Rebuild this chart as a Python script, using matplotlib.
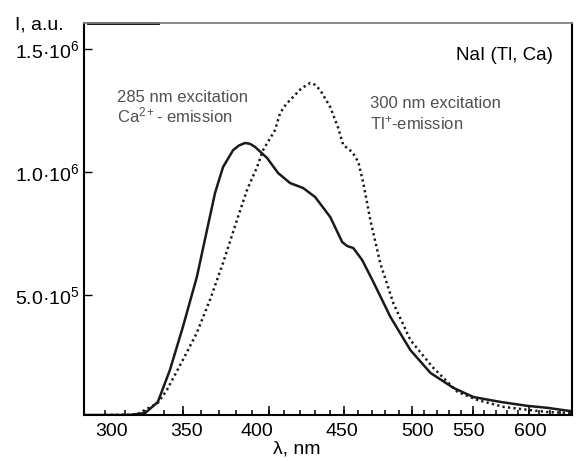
import matplotlib
matplotlib.use("Agg")
from matplotlib import pyplot as plt
from matplotlib.ticker import FixedLocator, NullFormatter

plt.rcParams['font.family'] = ['Liberation Sans', 'DejaVu Sans']
plt.rcParams['mathtext.fontset'] = 'custom'
plt.rcParams['mathtext.rm'] = 'Liberation Sans'
plt.rcParams['mathtext.it'] = 'Liberation Sans:italic'

# 285 nm excitation, Ca2+ emission (solid)
ca_wl  = [300, 307, 322, 330, 336.6, 343, 350, 357.7, 363.4, 368, 372.6, 378.5,
          382, 385.6, 388.5, 391.7, 399.1, 406, 413.7, 422.2, 430.2, 440.4,
          448.7, 452.2, 456.5, 462.9, 471, 483.7, 499, 514.9, 533.7, 550.6,
          574.4, 599.1, 618.2, 642]
ca_int = [0.012, 0.012, 0.012, 0.020, 0.065, 0.195, 0.370, 0.573, 0.764, 0.915,
          1.020, 1.089, 1.108, 1.118, 1.115, 1.102, 1.057, 0.996, 0.955, 0.935,
          0.898, 0.817, 0.715, 0.699, 0.691, 0.642, 0.553, 0.411, 0.276, 0.183,
          0.122, 0.085, 0.065, 0.049, 0.041, 0.027]

# 300 nm excitation, Tl+ emission (dotted)
tl_wl  = [310, 325.7, 336.6, 341.4, 350, 357.7, 365.1, 372.6, 380.8, 386.8,
          392.9, 396.6, 404.1, 407.3, 411, 415.6, 421, 426.8, 430, 433.6, 440.4,
          445.9, 449.4, 455.8, 460.1, 463.7, 468.8, 476.1, 485.9, 499, 516.5,
          537.1, 554.1, 577, 599.1, 618.2, 642]
tl_int = [0.012, 0.014, 0.061, 0.114, 0.236, 0.346, 0.480, 0.630, 0.805, 0.927,
          1.020, 1.089, 1.171, 1.240, 1.275, 1.305, 1.340, 1.362, 1.355, 1.333,
          1.264, 1.179, 1.110, 1.081, 1.041, 0.955, 0.805, 0.630, 0.467, 0.317,
          0.207, 0.106, 0.073, 0.045, 0.033, 0.024, 0.020]

x_tall = [350, 400, 450, 500, 550, 600]
x_short = list(range(310, 641, 10))
x_label_pos = [313.3, 352.2, 392.9, 448.7, 504.5, 546.4, 601.9]
x_labels = ['300', '350', '400', '450', '500', '550', '600']
y_ticks = [0.5e6, 1.0e6, 1.5e6]
y_labels = ['5.0·10$^5$', '1.0·10$^6$', '1.5·10$^6$']

fig, ax = plt.subplots(figsize=(5.76, 4.61), dpi=100)
fig.subplots_adjust(left=84/576, right=572/576, bottom=46/461, top=438/461)

ax.set_xscale('log')
ax.set_xlim(300, 642)
ax.set_ylim(0.012e6, 1.606e6)

ax.plot(ca_wl, [v*1e6 for v in ca_int], color='#1a1a1a', lw=1.8)
ax.plot(tl_wl, [v*1e6 for v in tl_int], color='#1a1a1a', lw=1.8,
        linestyle=(0, (0.9, 1.3)))

# labels sit a little off the tick marks, so the labelled ticks get no mark
ax.xaxis.set_major_locator(FixedLocator(x_label_pos))
ax.set_xticklabels(x_labels)
ax.xaxis.set_minor_locator(FixedLocator(x_short))
ax.xaxis.set_minor_formatter(NullFormatter())
ax.tick_params(axis='x', which='major', length=0, pad=6, labelsize=14)
ax.tick_params(axis='x', which='minor', direction='in', length=3.5, width=1.1)
# taller marks every 50 nm
ax.vlines(x_tall, 0.012e6, 0.048e6, color='black', lw=1.1, zorder=10)

ax.set_yticks(y_ticks, y_labels)
ax.tick_params(axis='y', direction='in', length=6, width=1.0, pad=3, labelsize=14)

for s in ['left', 'right', 'bottom']:
	ax.spines[s].set_linewidth(1.5)
	ax.spines[s].set_color('black')
ax.spines['top'].set_color('#7f7f7f')
ax.spines['top'].set_linewidth(1.3)
ax.plot([0.008, 0.152], [1.0, 1.0], transform=ax.transAxes, color='black',
        lw=2.0, clip_on=False)

fig.text(297/576, 1 - 449/461, 'λ, nm', fontsize=14, ha='center', va='center')
fig.text(15/576, 1 - 25/461, 'I, a.u.', fontsize=14, ha='left', va='center')

fig.text(553/576, 1 - 55/461, 'NaI (Tl, Ca)', fontsize=13.5, ha='right', va='center')
fig.text(117/576, 1 - 97/461, '285 nm excitation', fontsize=12,
         color='#505050', ha='left', va='center')
fig.text(117/576, 1 - 115/461, 'Ca$^{2+}$- emission', fontsize=12,
         color='#505050', ha='left', va='center')
fig.text(370/576, 1 - 103/461, '300 nm excitation', fontsize=12,
         color='#505050', ha='left', va='center')
fig.text(370/576, 1 - 123/461, 'Tl$^{+}$-emission', fontsize=12,
         color='#505050', ha='left', va='center')

fig.savefig('out.png', dpi=100)
